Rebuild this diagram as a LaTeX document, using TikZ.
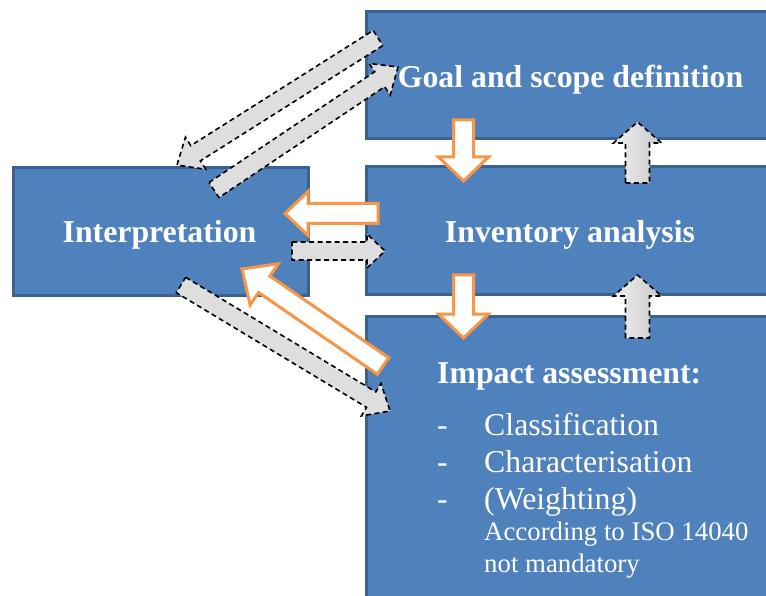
\documentclass[tikz,border=0pt]{standalone}
\usepackage{fontspec}
\setmainfont{Liberation Serif}
\usetikzlibrary{calc}
\definecolor{boxfill}{HTML}{4F81BD}
\definecolor{boxline}{HTML}{3A6190}
\definecolor{orng}{HTML}{F79646}
\definecolor{glight}{HTML}{F0F0F0}
\definecolor{gdark}{HTML}{C8C8C8}
\definecolor{gmid}{HTML}{DEDEDE}
% block arrow: style, from, to, half shaft, half head, head length
\newcommand\barrow[6]{%
  \draw[#1] ($(#2)!#4!90:(#3)$)
    -- ($(#3)!#6!(#2)!#4!90:(#3)$)
    -- ($(#3)!#6!(#2)!#5!90:(#3)$)
    -- (#3)
    -- ($(#3)!#6!(#2)!#5!-90:(#3)$)
    -- ($(#3)!#6!(#2)!#4!-90:(#3)$)
    -- ($(#2)!#4!-90:(#3)$) -- cycle;}
\tikzset{
  box/.style={draw=boxline, line width=3pt, fill=boxfill, rectangle, inner sep=0pt},
  head/.style={text=white, font=\fontsize{31.8}{38}\selectfont\bfseries, inner sep=0pt},
  item/.style={text=white, font=\fontsize{31.8}{38}\selectfont, inner sep=0pt, anchor=base west},
  note/.style={text=white, font=\fontsize{26.8}{32}\selectfont, inner sep=0pt, anchor=base west},
  oarr/.style={draw=orng, line width=3pt, fill=white, line join=miter},
  garr/.style={draw=black, line width=1.6pt, dash pattern=on 5pt off 3.5pt, line join=miter},
  gv/.style={garr, left color=glight, right color=gdark},
  gd/.style={garr, fill=gmid},
}
\begin{document}
\begin{tikzpicture}[x=1pt, y=-1pt]
\useasboundingbox (0,0) rectangle (766,596);
\clip (0,0) rectangle (766,596);
% boxes
\node[box, anchor=north west, minimum width=411pt, minimum height=127pt] (goal) at (365,10) {};
\node[box, anchor=north west, minimum width=411pt, minimum height=128pt] (inv) at (365,165) {};
\node[box, anchor=north west, minimum width=411pt, minimum height=305pt] (imp) at (365,315) {};
\node[box, anchor=north west, minimum width=295pt, minimum height=128pt] (interp) at (12,166) {};
% texts
\node[head, anchor=base] (tgoal) at (570.5,88) {Goal and scope definition};
\node[head, anchor=base] (tinv) at (570,243) {Inventory analysis};
\node[head, anchor=base] (tinterp) at (159.5,243) {Interpretation};
\node[head, anchor=base west] (timp) at (437,383) {Impact assessment:};
\node[item] (d1) at (437,435) {-};
\node[item] (d2) at (437,472) {-};
\node[item] (d3) at (437,509) {-};
\node[item] (i1) at (484,435) {Classification};
\node[item] (i2) at (484,472) {Characterisation};
\node[item] (i3) at (484,509) {(Weighting)};
\node[note] (n1) at (484,540) {According to ISO 14040};
\node[note] (n2) at (484,572) {not mandatory};
% arrow end points
\coordinate (o1s) at (463.5,120); \coordinate (o1e) at (463.5,181);
\coordinate (o2s) at (463.5,275); \coordinate (o2e) at (463.5,338);
\coordinate (o3s) at (378,213.5); \coordinate (o3e) at (285,213.5);
\coordinate (o4s) at (383,366);   \coordinate (o4e) at (242,269);
\coordinate (g1s) at (637.5,183); \coordinate (g1e) at (637.5,122);
\coordinate (g2s) at (637.5,338); \coordinate (g2e) at (637.5,275);
\coordinate (g3s) at (292,251);   \coordinate (g3e) at (385,251);
\coordinate (g4s) at (181,285);   \coordinate (g4e) at (390,411);
\coordinate (g5s) at (378,38);    \coordinate (g5e) at (177,165);
\coordinate (g6s) at (214,190);   \coordinate (g6e) at (398,67);
% orange arrows
\barrow{oarr}{o1s}{o1e}{10pt}{25pt}{24pt}
\barrow{oarr}{o2s}{o2e}{10pt}{25pt}{24pt}
\barrow{oarr}{o3s}{o3e}{10pt}{22pt}{23pt}
\barrow{oarr}{o4s}{o4e}{10pt}{25pt}{27pt}
% gray dashed arrows
\barrow{gv}{g1s}{g1e}{12pt}{24pt}{21pt}
\barrow{gv}{g2s}{g2e}{12pt}{24pt}{21pt}
\barrow{gd}{g3s}{g3e}{9pt}{17pt}{18pt}
\barrow{gd}{g4s}{g4e}{9pt}{19pt}{22pt}
\barrow{gd}{g5s}{g5e}{9pt}{19pt}{22pt}
\barrow{gd}{g6s}{g6e}{9pt}{19pt}{22pt}
\end{tikzpicture}
\end{document}
